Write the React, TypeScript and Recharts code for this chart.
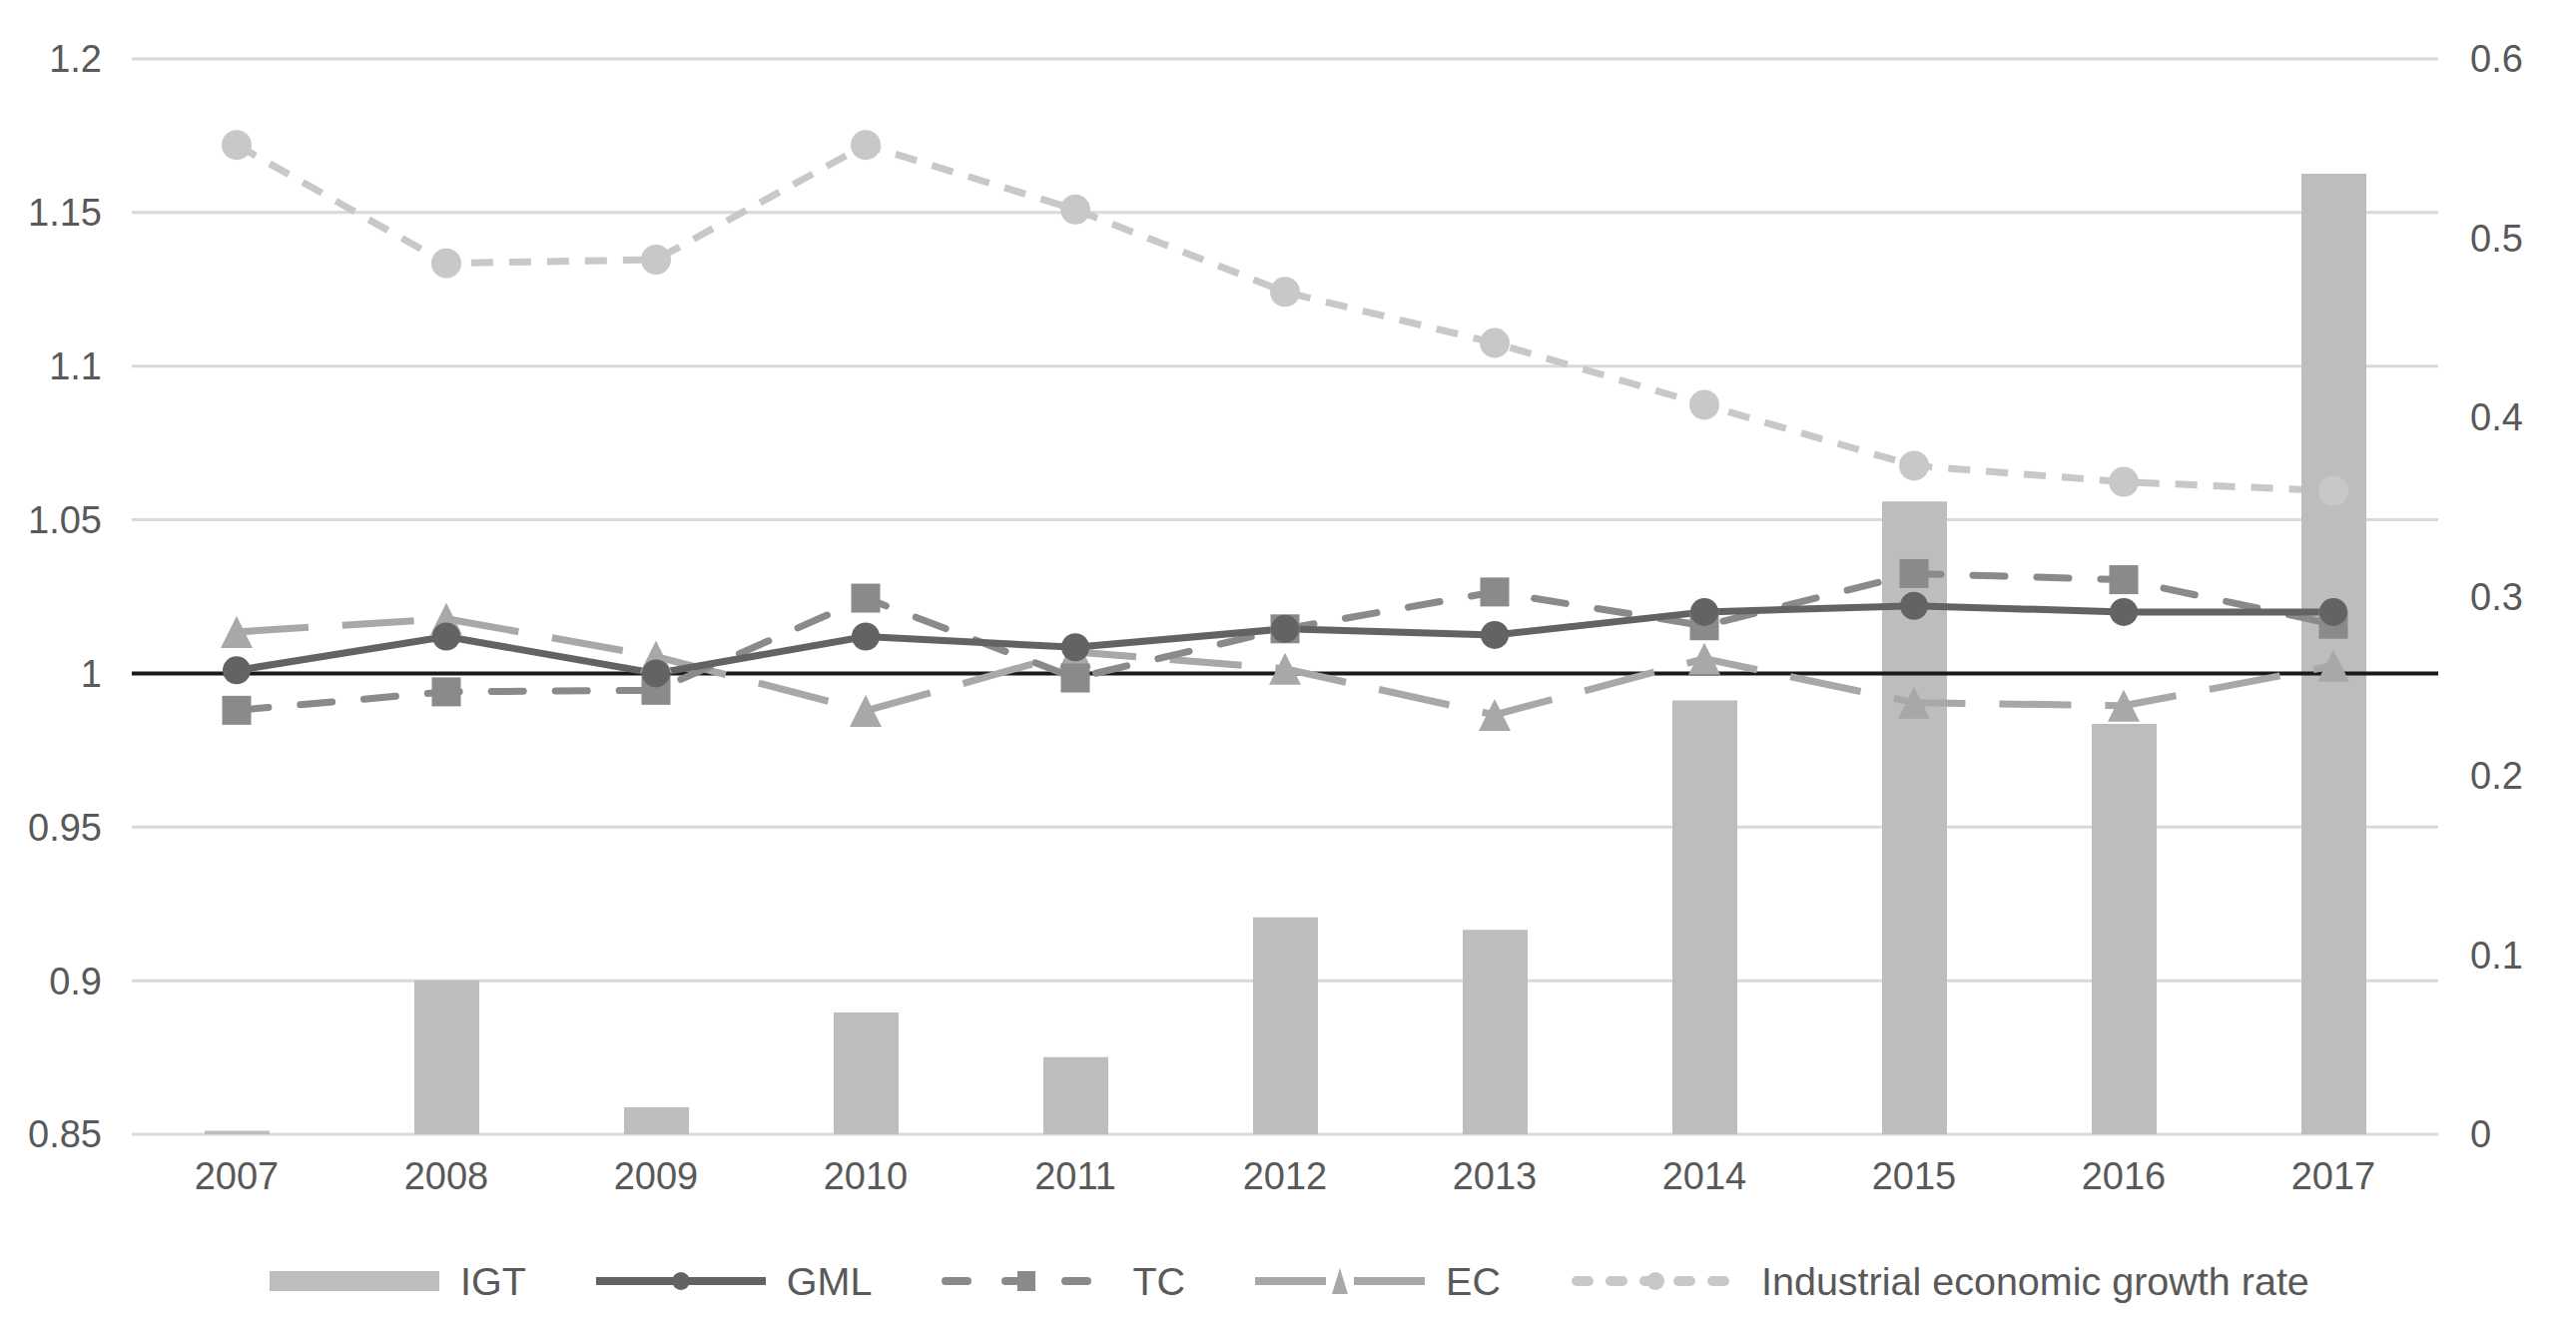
import React from 'react'
import {
  Bar,
  CartesianGrid,
  ComposedChart,
  Line,
  ReferenceLine,
  XAxis,
  YAxis,
} from 'recharts'

const years = ['2007', '2008', '2009', '2010', '2011', '2012', '2013', '2014', '2015', '2016', '2017']
const igt = [0.002, 0.086, 0.015, 0.068, 0.043, 0.121, 0.114, 0.242, 0.353, 0.229, 0.536]
const gml = [1.001, 1.012, 1.0, 1.012, 1.0085, 1.0145, 1.0125, 1.02, 1.022, 1.02, 1.02]
const tc = [0.988, 0.994, 0.9945, 1.0245, 0.9985, 1.0145, 1.0265, 1.0155, 1.0325, 1.0305, 1.016]
const ec = [1.0135, 1.0178, 1.0055, 0.9878, 1.007, 1.0015, 0.9865, 1.0048, 0.9905, 0.9895, 1.0025]
const growth = [0.552, 0.486, 0.488, 0.552, 0.516, 0.47, 0.4415, 0.407, 0.373, 0.364, 0.359]

const leftTicks = [0.85, 0.9, 0.95, 1, 1.05, 1.1, 1.15, 1.2]
const rightTicks = [0, 0.1, 0.2, 0.3, 0.4, 0.5, 0.6]

const data = years.map((year, i) => ({
  year,
  IGT: igt[i],
  GML: gml[i],
  TC: tc[i],
  EC: ec[i],
  growth: growth[i],
}))

const COLORS = {
  igt: '#bdbdbd',
  gml: '#636363',
  tc: '#8a8a8a',
  ec: '#a8a8a8',
  growth: '#c8c8c8',
  grid: '#d9d9d9',
  text: '#595959',
}

const FONT = '"Liberation Sans", Arial, sans-serif'
const tickStyle = { fontSize: 38, fill: COLORS.text, fontFamily: FONT }

const squareDot = (size: number, fill: string) => (props: any) => {
  const { cx, cy, index } = props
  if (cx == null || cy == null) return <g key={index} />
  return <rect key={index} x={cx - size / 2} y={cy - size / 2} width={size} height={size} fill={fill} />
}

const triangleDot = (size: number, fill: string) => (props: any) => {
  const { cx, cy, index } = props
  if (cx == null || cy == null) return <g key={index} />
  const pts = `${cx},${cy - size / 2} ${cx + size / 2},${cy + size / 2} ${cx - size / 2},${cy + size / 2}`
  return <polygon key={index} points={pts} fill={fill} />
}

function LegendIcon({ kind }: { kind: string }) {
  const w = 170
  const h = 30
  const mid = h / 2
  if (kind === 'IGT') {
    return (
      <svg width={w} height={h}>
        <rect x={0} y={5} width={w} height={20} fill={COLORS.igt} />
      </svg>
    )
  }
  if (kind === 'GML') {
    return (
      <svg width={w} height={h}>
        <line x1={0} y1={mid} x2={w} y2={mid} stroke={COLORS.gml} strokeWidth={8} strokeLinecap="round" />
        <circle cx={w / 2} cy={mid} r={9} fill={COLORS.gml} />
      </svg>
    )
  }
  if (kind === 'TC') {
    return (
      <svg width={w} height={h}>
        <line
          x1={4}
          y1={mid}
          x2={w - 4}
          y2={mid}
          stroke={COLORS.tc}
          strokeWidth={8}
          strokeDasharray="22 38"
          strokeLinecap="round"
        />
        <rect x={w / 2 - 9} y={mid - 10} width={18} height={20} fill={COLORS.tc} />
      </svg>
    )
  }
  if (kind === 'EC') {
    return (
      <svg width={w} height={h}>
        <line x1={0} y1={mid} x2={w / 2 - 14} y2={mid} stroke={COLORS.ec} strokeWidth={8} />
        <line x1={w / 2 + 14} y1={mid} x2={w} y2={mid} stroke={COLORS.ec} strokeWidth={8} />
        <polygon points={`${w / 2},${mid - 13} ${w / 2 + 8},${mid + 13} ${w / 2 - 8},${mid + 13}`} fill={COLORS.ec} />
      </svg>
    )
  }
  return (
    <svg width={w} height={h}>
      <line
        x1={6}
        y1={mid}
        x2={w - 6}
        y2={mid}
        stroke={COLORS.growth}
        strokeWidth={10}
        strokeDasharray="12 22"
        strokeLinecap="round"
      />
      <circle cx={w / 2} cy={mid} r={9} fill={COLORS.growth} />
    </svg>
  )
}

const legendItems = [
  { kind: 'IGT', label: 'IGT' },
  { kind: 'GML', label: 'GML' },
  { kind: 'TC', label: 'TC' },
  { kind: 'EC', label: 'EC' },
  { kind: 'growth', label: 'Industrial economic growth rate' },
]

export default function App() {
  return (
    <div style={{ position: 'absolute', left: 0, top: 0, width: 2580, height: 1326, background: '#fff' }}>
      <ComposedChart width={2580} height={1326} data={data} margin={{ top: 59, right: 0, bottom: 130, left: 0 }}>
        <CartesianGrid yAxisId="left" vertical={false} stroke={COLORS.grid} strokeWidth={3} />
        <XAxis
          dataKey="year"
          height={60}
          axisLine={false}
          tickLine={false}
          tickSize={0}
          tickMargin={28}
          tick={tickStyle}
        />
        <YAxis
          yAxisId="left"
          orientation="left"
          width={132}
          domain={[0.85, 1.2]}
          ticks={leftTicks}
          interval={0}
          axisLine={false}
          tickLine={false}
          tickSize={0}
          tickMargin={30}
          tick={tickStyle}
        />
        <YAxis
          yAxisId="right"
          orientation="right"
          width={138}
          domain={[0, 0.6]}
          ticks={rightTicks}
          interval={0}
          axisLine={false}
          tickLine={false}
          tickSize={0}
          tickMargin={32}
          tick={tickStyle}
        />
        {/* growth rate sits behind the bars in the original */}
        <Line
          yAxisId="right"
          dataKey="growth"
          stroke={COLORS.growth}
          strokeWidth={7}
          strokeDasharray="22 16"
          dot={{ r: 15, fill: COLORS.growth, stroke: 'none' }}
          isAnimationActive={false}
          {...({ zIndex: 250 } as any)}
        />
        <Bar yAxisId="right" dataKey="IGT" fill={COLORS.igt} barSize={65} isAnimationActive={false} />
        <ReferenceLine yAxisId="left" y={1} stroke="#1a1a1a" strokeWidth={4} />
        <Line
          yAxisId="left"
          dataKey="EC"
          stroke={COLORS.ec}
          strokeWidth={7}
          strokeDasharray="72 34"
          dot={triangleDot(32, COLORS.ec)}
          isAnimationActive={false}
        />
        <Line
          yAxisId="left"
          dataKey="TC"
          stroke={COLORS.tc}
          strokeWidth={7}
          strokeDasharray="32 32"
          strokeLinecap="round"
          dot={squareDot(29, COLORS.tc)}
          isAnimationActive={false}
        />
        <Line
          yAxisId="left"
          dataKey="GML"
          stroke={COLORS.gml}
          strokeWidth={7}
          dot={{ r: 14, fill: COLORS.gml, stroke: 'none' }}
          isAnimationActive={false}
        />
      </ComposedChart>
      <div
        style={{
          position: 'absolute',
          left: 270,
          top: 1260,
          height: 46,
          display: 'flex',
          alignItems: 'center',
          gap: 70,
          fontFamily: FONT,
          fontSize: 39.5,
          color: COLORS.text,
          whiteSpace: 'nowrap',
        }}
      >
        {legendItems.map((item) => (
          <div key={item.kind} style={{ display: 'flex', alignItems: 'center', gap: 21 }}>
            <LegendIcon kind={item.kind} />
            <span>{item.label}</span>
          </div>
        ))}
      </div>
    </div>
  )
}
